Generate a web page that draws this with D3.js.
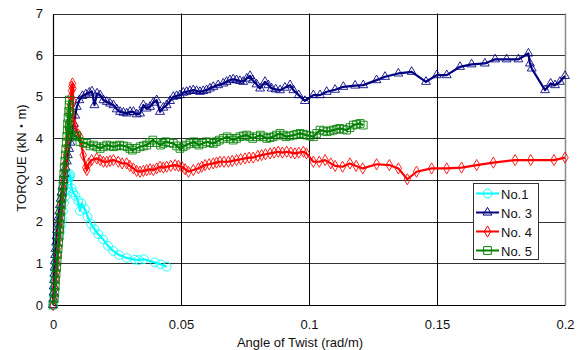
<!DOCTYPE html>
<html><head><meta charset="utf-8">
<script src="https://cdn.jsdelivr.net/npm/d3@7"></script>
<style>
body{margin:0;background:#fff;}
svg{display:block;}
text{font-family:"Liberation Sans",Arial,"Noto Sans CJK JP",sans-serif;fill:#111;}
</style></head>
<body><svg id="c" width="583" height="350"></svg>
<script>
// ---- data ----
const seriesNames = ["No.1", "No. 3", "No. 4", "No. 5"];
const xTicks = [0, 0.05, 0.1, 0.15, 0.2];
const xTickLabels = ["0", "0.05", "0.1", "0.15", "0.2"];
const yTicks = [0, 1, 2, 3, 4, 5, 6, 7];
const yTickLabels = ["0", "1", "2", "3", "4", "5", "6", "7"];

const no1 = [[0,0],[0.0003,0.2],[0.0005,0.4],[0.0007,0.6],[0.0009,0.8],[0.0012,1.0],[0.0015,1.2],[0.0018,1.4],[0.0022,1.6],[0.0027,1.75],[0.0031,1.9],[0.0035,2.05],[0.0039,2.25],[0.0043,2.45],[0.0047,2.6],[0.0051,2.75],[0.0055,2.9],[0.0059,3.0],[0.0063,3.08],[0.0066,3.14],[0.0068,3.1],[0.0073,2.8],[0.0079,2.7],[0.0088,2.62],[0.0098,2.5],[0.0105,2.26],[0.0112,2.44],[0.0125,2.3],[0.0135,2.12],[0.0148,1.95],[0.0162,1.82],[0.0177,1.7],[0.0195,1.58],[0.0215,1.42],[0.0235,1.3],[0.0258,1.2],[0.0288,1.13],[0.032,1.09],[0.0335,1.08],[0.0355,1.1],[0.0398,1.02],[0.042,0.98],[0.0444,0.92]];

const no3 = [[0,0],[0.0001,0.15],[0.0002,0.3],[0.0003,0.45],[0.0004,0.6],[0.0005,0.75],[0.0006,0.9],[0.0007,1.05],[0.0008,1.2],[0.001,1.35],[0.0012,1.5],[0.0014,1.65],[0.0016,1.8],[0.0019,1.95],[0.0021,2.1],[0.0024,2.25],[0.0027,2.4],[0.003,2.55],[0.0033,2.7],[0.0037,2.85],[0.0041,3.0],[0.0045,3.15],[0.0049,3.3],[0.0054,3.45],[0.0058,3.6],[0.0063,3.75],[0.0068,3.9],[0.0072,4.05],[0.0076,4.2],[0.0081,4.35],[0.0087,4.55],[0.0093,4.76],[0.0103,4.92],[0.0115,5.02],[0.0128,5.06],[0.0142,5.1],[0.0152,5.13],[0.0162,4.8],[0.0172,5.08],[0.0184,5.04],[0.0197,4.92],[0.021,4.88],[0.0223,4.84],[0.0236,4.8],[0.0249,4.7],[0.0262,4.64],[0.0275,4.62],[0.0288,4.6],[0.0301,4.64],[0.0314,4.64],[0.0327,4.58],[0.034,4.6],[0.0353,4.8],[0.0366,4.72],[0.0379,4.76],[0.0392,4.86],[0.0405,4.92],[0.0418,4.64],[0.0431,4.74],[0.0444,4.8],[0.0457,4.9],[0.047,5.0],[0.0483,5.02],[0.0496,5.04],[0.0509,5.1],[0.0522,5.12],[0.0535,5.14],[0.0548,5.16],[0.0561,5.14],[0.0574,5.12],[0.0587,5.14],[0.06,5.16],[0.0613,5.2],[0.0626,5.24],[0.0645,5.28],[0.0665,5.32],[0.0678,5.36],[0.0691,5.4],[0.0704,5.42],[0.0717,5.4],[0.073,5.38],[0.0743,5.36],[0.0757,5.44],[0.077,5.5],[0.078,5.4],[0.0795,5.3],[0.0809,5.2],[0.0828,5.36],[0.0841,5.28],[0.0854,5.2],[0.087,5.18],[0.0887,5.16],[0.0906,5.22],[0.0926,5.28],[0.0939,5.16],[0.096,5.04],[0.0984,4.9],[0.1017,5.04],[0.1043,5.04],[0.1069,5.12],[0.1102,5.17],[0.1134,5.24],[0.118,5.27],[0.1212,5.28],[0.1264,5.4],[0.1297,5.48],[0.1349,5.56],[0.1401,5.6],[0.1457,5.36],[0.1499,5.52],[0.1538,5.52],[0.159,5.72],[0.1635,5.78],[0.1687,5.8],[0.1727,5.9],[0.1772,5.9],[0.1818,5.9],[0.1857,6.04],[0.1863,5.8],[0.187,5.68],[0.1922,5.16],[0.1944,5.32],[0.1961,5.28],[0.198,5.36],[0.2,5.5]];

const no4 = [[0,0],[0.0005,0.2],[0.0008,0.4],[0.0011,0.6],[0.0014,0.8],[0.0016,1.0],[0.0019,1.2],[0.0022,1.4],[0.0024,1.6],[0.0027,1.8],[0.003,2.0],[0.0033,2.2],[0.0035,2.4],[0.0038,2.6],[0.0041,2.8],[0.0043,3.0],[0.0046,3.2],[0.0049,3.4],[0.0052,3.6],[0.0054,3.8],[0.0057,4.0],[0.006,4.2],[0.0062,4.4],[0.0065,4.6],[0.0068,4.8],[0.007,5.0],[0.0072,5.15],[0.0074,5.25],[0.0076,5.32],[0.0078,5.2],[0.0078,4.9],[0.0079,4.5],[0.0086,4.3],[0.0098,4.1],[0.0105,4.04],[0.0118,3.6],[0.0128,3.3],[0.0132,3.24],[0.014,3.4],[0.0151,3.48],[0.0171,3.52],[0.0184,3.48],[0.0197,3.44],[0.021,3.44],[0.0223,3.46],[0.0236,3.48],[0.0255,3.44],[0.027,3.4],[0.0288,3.4],[0.03,3.34],[0.0314,3.28],[0.0327,3.22],[0.034,3.2],[0.0353,3.22],[0.0366,3.24],[0.0379,3.26],[0.0392,3.24],[0.0405,3.28],[0.0418,3.32],[0.0431,3.3],[0.0444,3.32],[0.046,3.34],[0.0477,3.36],[0.049,3.34],[0.0503,3.32],[0.0516,3.26],[0.0529,3.2],[0.0548,3.24],[0.0568,3.28],[0.0581,3.32],[0.0594,3.36],[0.061,3.38],[0.0626,3.4],[0.0639,3.42],[0.0652,3.44],[0.0668,3.44],[0.0685,3.44],[0.07,3.46],[0.0717,3.48],[0.0733,3.5],[0.075,3.52],[0.0766,3.54],[0.0782,3.54],[0.08,3.58],[0.0815,3.6],[0.083,3.62],[0.0848,3.64],[0.0864,3.66],[0.088,3.68],[0.0896,3.66],[0.0913,3.68],[0.0929,3.66],[0.0945,3.64],[0.096,3.66],[0.0978,3.68],[0.099,3.64],[0.1017,3.44],[0.104,3.44],[0.1063,3.48],[0.1085,3.4],[0.1102,3.34],[0.1131,3.32],[0.116,3.4],[0.1184,3.34],[0.121,3.28],[0.1264,3.38],[0.1314,3.36],[0.1349,3.28],[0.1384,3.02],[0.142,3.2],[0.1479,3.28],[0.1538,3.28],[0.1596,3.3],[0.1655,3.36],[0.172,3.42],[0.1805,3.48],[0.1866,3.48],[0.1957,3.48],[0.2,3.54]];

const no5 = [[0,0],[0.0005,0.15],[0.0007,0.3],[0.0009,0.45],[0.001,0.6],[0.0012,0.75],[0.0014,0.9],[0.0016,1.05],[0.0018,1.2],[0.002,1.35],[0.0022,1.5],[0.0024,1.65],[0.0026,1.8],[0.0027,1.95],[0.0029,2.1],[0.0031,2.25],[0.0033,2.4],[0.0035,2.55],[0.0037,2.7],[0.0039,2.85],[0.0041,3.0],[0.0042,3.15],[0.0044,3.3],[0.0046,3.45],[0.0048,3.6],[0.005,3.75],[0.0052,3.9],[0.0054,4.05],[0.0056,4.2],[0.0057,4.35],[0.0059,4.5],[0.0061,4.65],[0.0063,4.8],[0.0064,4.92],[0.0066,4.6],[0.0064,4.3],[0.0066,4.12],[0.0075,4.06],[0.0085,4.08],[0.0093,4.04],[0.0105,3.92],[0.0118,3.9],[0.0132,3.88],[0.0145,3.82],[0.0158,3.84],[0.0171,3.8],[0.0184,3.76],[0.0197,3.8],[0.021,3.84],[0.0223,3.82],[0.0236,3.8],[0.0249,3.82],[0.026,3.84],[0.0275,3.82],[0.029,3.8],[0.03,3.76],[0.031,3.72],[0.0325,3.76],[0.034,3.8],[0.0353,3.82],[0.0366,3.84],[0.0378,3.9],[0.039,3.96],[0.0405,3.9],[0.042,3.84],[0.043,3.88],[0.044,3.92],[0.0455,3.9],[0.047,3.88],[0.0483,3.82],[0.0496,3.76],[0.0508,3.8],[0.052,3.84],[0.0535,3.88],[0.055,3.92],[0.056,3.88],[0.057,3.84],[0.0585,3.88],[0.06,3.92],[0.0613,3.9],[0.0626,3.88],[0.0638,3.92],[0.065,3.96],[0.0665,4.0],[0.068,4.04],[0.0692,4.0],[0.0704,3.96],[0.0717,4.0],[0.073,4.04],[0.0743,4.06],[0.0757,4.08],[0.0768,4.04],[0.078,4.0],[0.0795,4.04],[0.081,4.08],[0.0822,4.04],[0.0835,4.0],[0.0848,4.02],[0.086,4.04],[0.0873,4.08],[0.0887,4.12],[0.09,4.08],[0.091,4.04],[0.0925,4.06],[0.094,4.08],[0.0952,4.1],[0.0965,4.12],[0.0978,4.1],[0.099,4.08],[0.1004,4.06],[0.1017,4.04],[0.103,4.12],[0.1043,4.2],[0.1057,4.18],[0.107,4.16],[0.1083,4.18],[0.1095,4.2],[0.1108,4.22],[0.112,4.24],[0.1134,4.22],[0.1147,4.2],[0.116,4.26],[0.1173,4.32],[0.1186,4.34],[0.12,4.36],[0.1212,4.32]];

// ---- chart ----
const svg = d3.select("#c");
const L = 53, R = 565, T = 13.5, B = 305;
const x = d3.scaleLinear().domain([0, 0.2]).range([L, R]);
const y = d3.scaleLinear().domain([0, 7]).range([B, T]);

// gridlines
svg.append("g").selectAll("line").data(yTicks.filter(d => d > 0)).join("line")
  .attr("x1", L).attr("x2", R).attr("y1", d => Math.round(y(d)) + 0.5).attr("y2", d => Math.round(y(d)) + 0.5)
  .attr("stroke", "#333").attr("stroke-width", 1);
svg.append("g").selectAll("line").data(xTicks.filter(d => d > 0 && d < 0.2)).join("line")
  .attr("x1", d => Math.round(x(d)) + 0.5).attr("x2", d => Math.round(x(d)) + 0.5).attr("y1", T).attr("y2", B)
  .attr("stroke", "#000").attr("stroke-width", 1);
svg.append("line").attr("x1", R + 0.5).attr("x2", R + 0.5).attr("y1", T).attr("y2", B)
  .attr("stroke", "#888").attr("stroke-width", 1.5);

// axes
const xAxis = d3.axisBottom(x).tickValues(xTicks).tickSize(0).tickPadding(15)
  .tickFormat((d, i) => xTickLabels[i]);
const gx = svg.append("g").attr("transform", `translate(0,${B})`).call(xAxis);
gx.select(".domain").attr("stroke", "#000").attr("stroke-width", 1.2);
gx.selectAll("text").attr("font-size", 13).attr("font-family", '"Liberation Sans",Arial,sans-serif').attr("fill", "#111");

const yAxis = d3.axisLeft(y).tickValues(yTicks).tickSize(0).tickPadding(10)
  .tickFormat((d, i) => yTickLabels[i]);
const gy = svg.append("g").attr("transform", `translate(${L},0)`).call(yAxis);
gy.select(".domain").attr("stroke", "#000").attr("stroke-width", 1.2);
gy.selectAll("text").attr("font-size", 13).attr("font-family", '"Liberation Sans",Arial,sans-serif').attr("fill", "#111");

svg.append("text").attr("x", 300).attr("y", 347).attr("text-anchor", "middle")
  .attr("font-size", 13).text("Angle of Twist (rad/m)");
svg.append("text").attr("transform", "translate(26,158) rotate(-90)").attr("text-anchor", "middle")
  .attr("font-size", 13).text("TORQUE (kN・m)");

// series
const colors = ["#00FFFF", "#000080", "#FF0000", "#008000"];
const symbols = [d3.symbolCircle, d3.symbolTriangle, d3.symbolDiamond, d3.symbolSquare];
const sizes = [60, 34, 36, 60];
const datas = [no1, no3, no4, no5];
const line = d3.line().x(d => x(d[0])).y(d => y(d[1]));

datas.forEach((data, i) => {
  const g = svg.append("g");
  g.append("path").attr("d", line(data)).attr("fill", "none")
    .attr("stroke", colors[i]).attr("stroke-width", 2.2).attr("stroke-linejoin", "round");
  const sym = d3.symbol().type(symbols[i]).size(sizes[i]);
  g.selectAll("path.m").data(data).join("path").attr("class", "m")
    .attr("d", sym).attr("transform", d => `translate(${x(d[0])},${y(d[1])})`)
    .attr("fill", "none").attr("stroke", colors[i]).attr("stroke-width", 1).attr("stroke-opacity", 0.85);
});

// legend
const lg = svg.append("g");
lg.append("rect").attr("x", 473.5).attr("y", 183.5).attr("width", 65).attr("height", 76)
  .attr("fill", "#fff").attr("stroke", "#333").attr("stroke-width", 1);
seriesNames.forEach((n, i) => {
  const cy = 193.5 + i * 19;
  lg.append("line").attr("x1", 476).attr("x2", 499).attr("y1", cy).attr("y2", cy)
    .attr("stroke", colors[i]).attr("stroke-width", 2);
  lg.append("path").attr("d", d3.symbol().type(symbols[i]).size(sizes[i])())
    .attr("transform", `translate(487.5,${cy})`).attr("fill", "none")
    .attr("stroke", colors[i]).attr("stroke-width", 1);
  lg.append("text").attr("x", 501).attr("y", cy + 5).attr("font-size", 13).text(n);
});
</script></body></html>
